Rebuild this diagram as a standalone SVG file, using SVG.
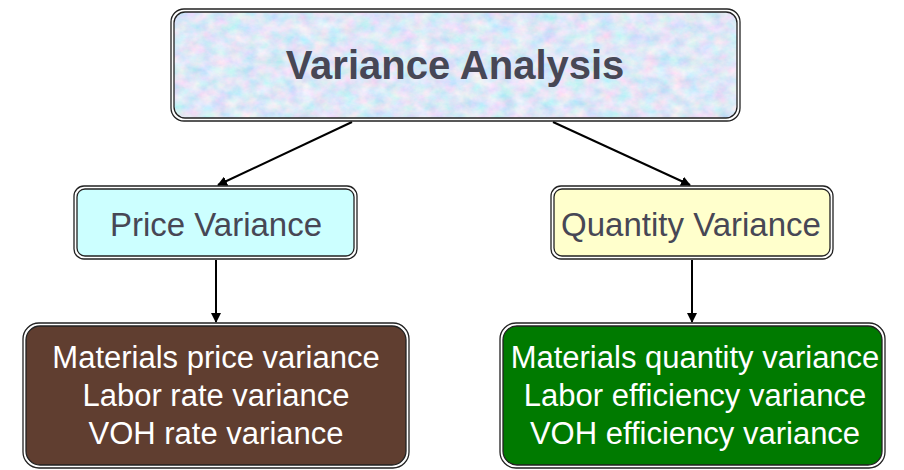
<svg xmlns="http://www.w3.org/2000/svg" width="904" height="470" viewBox="0 0 904 470">
<style>
.ob{fill:none;stroke:#222;stroke-width:1.3}
.ib{stroke:#222;stroke-width:1.3}
.dark{font-family:"Liberation Sans",Arial,sans-serif;fill:#474755;text-anchor:middle}
.lt{font-family:"Liberation Sans",Arial,sans-serif;fill:#fff;text-anchor:middle;font-size:31px}
.con{stroke:#000;stroke-width:2;fill:none;marker-end:url(#ah)}
</style>
<defs>
<marker id="ah" viewBox="0 0 10 10" refX="9" refY="5" markerWidth="5" markerHeight="5" orient="auto" markerUnits="strokeWidth">
<path d="M0,0 L10,5 L0,10 z" fill="#000"/>
</marker>
<filter id="tex" x="0" y="0" width="1" height="1">
<feTurbulence type="fractalNoise" baseFrequency="0.07 0.09" numOctaves="4" seed="7" result="n"/>
<feColorMatrix in="n" type="matrix" values="0.7 0 0 0 0.38  0 0.35 0 0 0.63  0 0 0.2 0 0.83  0 0 0 0 1" result="c"/>
<feComposite in="c" in2="SourceGraphic" operator="in"/>
</filter>
</defs>
<g id="connectors">
<line class="con" x1="352" y1="122" x2="218" y2="185"/>
<line class="con" x1="553" y1="122" x2="690" y2="185"/>
<line class="con" x1="216" y1="260" x2="216" y2="322"/>
<line class="con" x1="692" y1="260" x2="692" y2="322"/>
</g>
<g id="top">
<rect x="174" y="12" width="563" height="106" rx="11" fill="#c5d5f0" filter="url(#tex)"/>
<rect x="171" y="9" width="569" height="112" rx="13" class="ob"/>
<rect x="174" y="12" width="563" height="106" rx="11" class="ib" fill="none"/>
<text x="455" y="79" class="dark" font-size="40" font-weight="bold">Variance Analysis</text>
</g>
<g id="price">
<rect x="74" y="186" width="283" height="73" rx="10" class="ob"/>
<rect x="77" y="189" width="277" height="67" rx="8" class="ib" fill="#ccffff"/>
<text x="216" y="236" class="dark" font-size="33">Price Variance</text>
</g>
<g id="quantity">
<rect x="551" y="186" width="282" height="73" rx="10" class="ob"/>
<rect x="554" y="189" width="276" height="67" rx="8" class="ib" fill="#ffffcc"/>
<text x="691" y="236" class="dark" font-size="33">Quantity Variance</text>
</g>
<g id="pricedetail">
<rect x="23" y="323" width="386" height="145" rx="16" class="ob"/>
<rect x="26" y="326" width="380" height="139" rx="14" class="ib" fill="#603e30"/>
<text x="216" y="368" class="lt">Materials price variance</text>
<text x="216" y="406" class="lt">Labor rate variance</text>
<text x="216" y="444" class="lt">VOH rate variance</text>
</g>
<g id="quantitydetail">
<rect x="500" y="323" width="385" height="145" rx="16" class="ob"/>
<rect x="503" y="326" width="379" height="139" rx="14" class="ib" fill="#007a00"/>
<text x="695" y="368" class="lt">Materials quantity variance</text>
<text x="695" y="406" class="lt">Labor efficiency variance</text>
<text x="695" y="444" class="lt">VOH efficiency variance</text>
</g>
</svg>
